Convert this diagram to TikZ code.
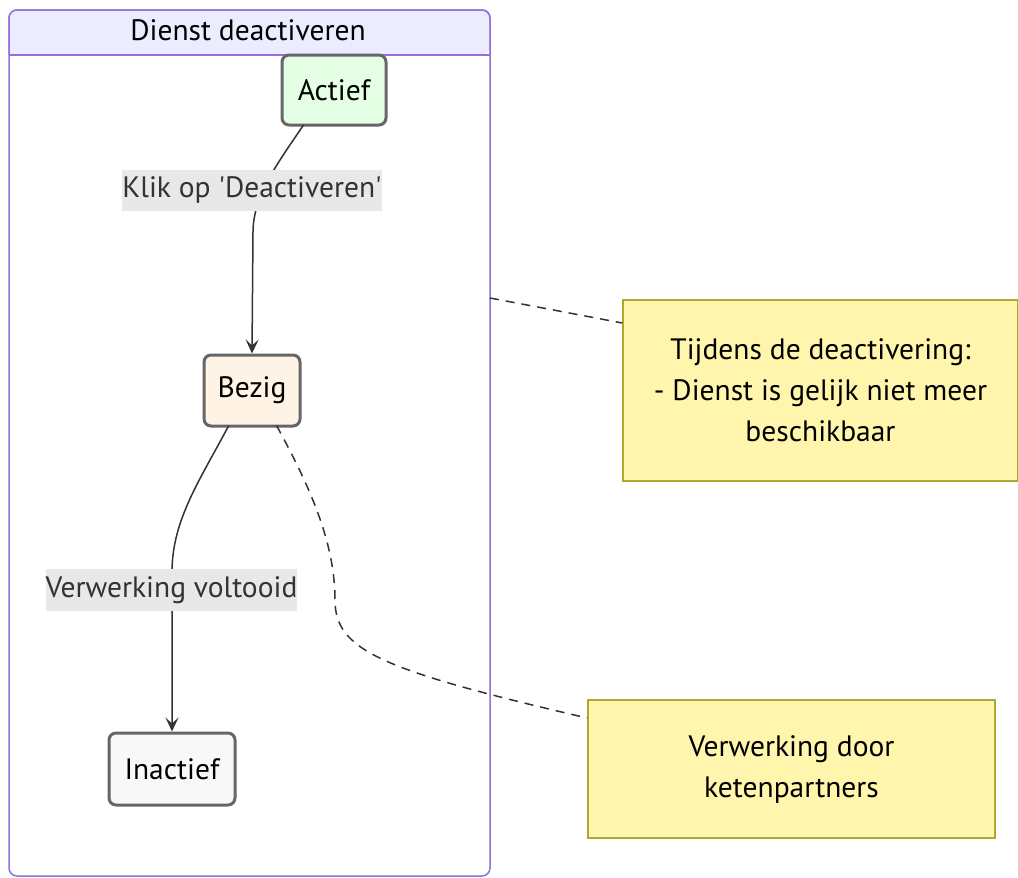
\documentclass[tikz,border=0pt]{standalone}
\usepackage{fontspec}
\setmainfont{PT Sans}
\usetikzlibrary{arrows.meta}
\definecolor{clusterfill}{HTML}{ECECFF}
\definecolor{clusterline}{HTML}{9370DB}
\definecolor{nodeline}{HTML}{666666}
\definecolor{greenfill}{HTML}{E5FFE5}
\definecolor{orangefill}{HTML}{FFF3E5}
\definecolor{grayfill}{HTML}{F8F8F8}
\definecolor{notefill}{HTML}{FFF5AD}
\definecolor{noteline}{HTML}{AAAA33}
\definecolor{edgecol}{HTML}{333333}
\definecolor{labelfill}{HTML}{E8E8E8}
\tikzset{
  statebox/.style={draw=nodeline, line width=3pt, rounded corners=7pt, inner sep=0pt, font=\fontsize{29.5}{34}\selectfont, text=black},
  notebox/.style={draw=noteline, line width=1.5pt, fill=notefill, inner sep=0pt, align=center, font=\fontsize{29.5}{41}\selectfont, text=black},
  edgelabel/.style={fill=labelfill, inner sep=0pt, font=\fontsize{29.5}{34}\selectfont, text=edgecol},
  flow/.style={draw=edgecol, line width=1.5pt, -{Stealth[length=14pt,width=13pt,inset=6pt]}},
  notelink/.style={draw=edgecol, line width=1.5pt, dash pattern=on 9pt off 7pt},
}
\begin{document}
\begin{tikzpicture}[x=1pt,y=-1pt]
\useasboundingbox (0,0) rectangle (1018,878);
% cluster
\draw[clusterline, line width=1.5pt, fill=white, rounded corners=8pt] (9,10) rectangle (490,876);
\fill[clusterfill, rounded corners=8pt] (9.75,10.75) -- (489.25,10.75) -- (489.25,55) [sharp corners] -- (9.75,55) -- cycle;
\draw[clusterline, line width=1.5pt, rounded corners=8pt] (9,55) -- (9,10) -- (490,10) -- (490,55);
\draw[clusterline, line width=1.5pt] (9,55) -- (490,55);
\node[font=\fontsize{29.5}{34}\selectfont, text=black] (title) at (248,30) {Dienst deactiveren};
\coordinate (cluE) at (490,298);
% states
\node[statebox, fill=greenfill, minimum width=104pt, minimum height=70pt] (actief) at (334,90) {Actief};
\node[statebox, fill=orangefill, minimum width=96pt, minimum height=71pt] (bezig) at (252,390.5) {Bezig};
\node[statebox, fill=grayfill, minimum width=126pt, minimum height=72pt] (inactief) at (172,769) {Inactief};
% notes
\node[notebox, minimum width=395pt, minimum height=181pt] (note1) at (820.5,390.5) {Tijdens de deactivering:\\- Dienst is gelijk niet meer\\beschikbaar};
\node[notebox, minimum width=407pt, minimum height=138pt] (note2) at (791.5,769) {Verwerking door\\ketenpartners};
% edges
\path[flow] (actief.south west) ++(23pt,1.5pt) coordinate (a1)
  (a1) .. controls (280,160) and (253,195) .. (253,232) -- (bezig.north);
\path[flow] (bezig.south west) ++(26pt,1.5pt) coordinate (b1)
  (b1) .. controls (200,480) and (172,520) .. (172,572) -- (inactief.north);
\node[edgelabel, minimum width=256pt, minimum height=41pt] (lab1) at (252,190.5) {Klik op \textquotesingle Deactiveren\textquotesingle};
\node[edgelabel, minimum width=251pt, minimum height=42pt] (lab2) at (171.5,590) {Verwerking voltooid};
% note links
\path[notelink] (cluE) -- (note1.west |- 0,323);
\path[notelink] (bezig.south east) ++(-25pt,2pt) coordinate (b2)
  (b2) .. controls (312,490) and (335,545) .. (335,600) .. controls (335,650) and (380,670) .. (note2.west |- 0,718);
\end{tikzpicture}
\end{document}
